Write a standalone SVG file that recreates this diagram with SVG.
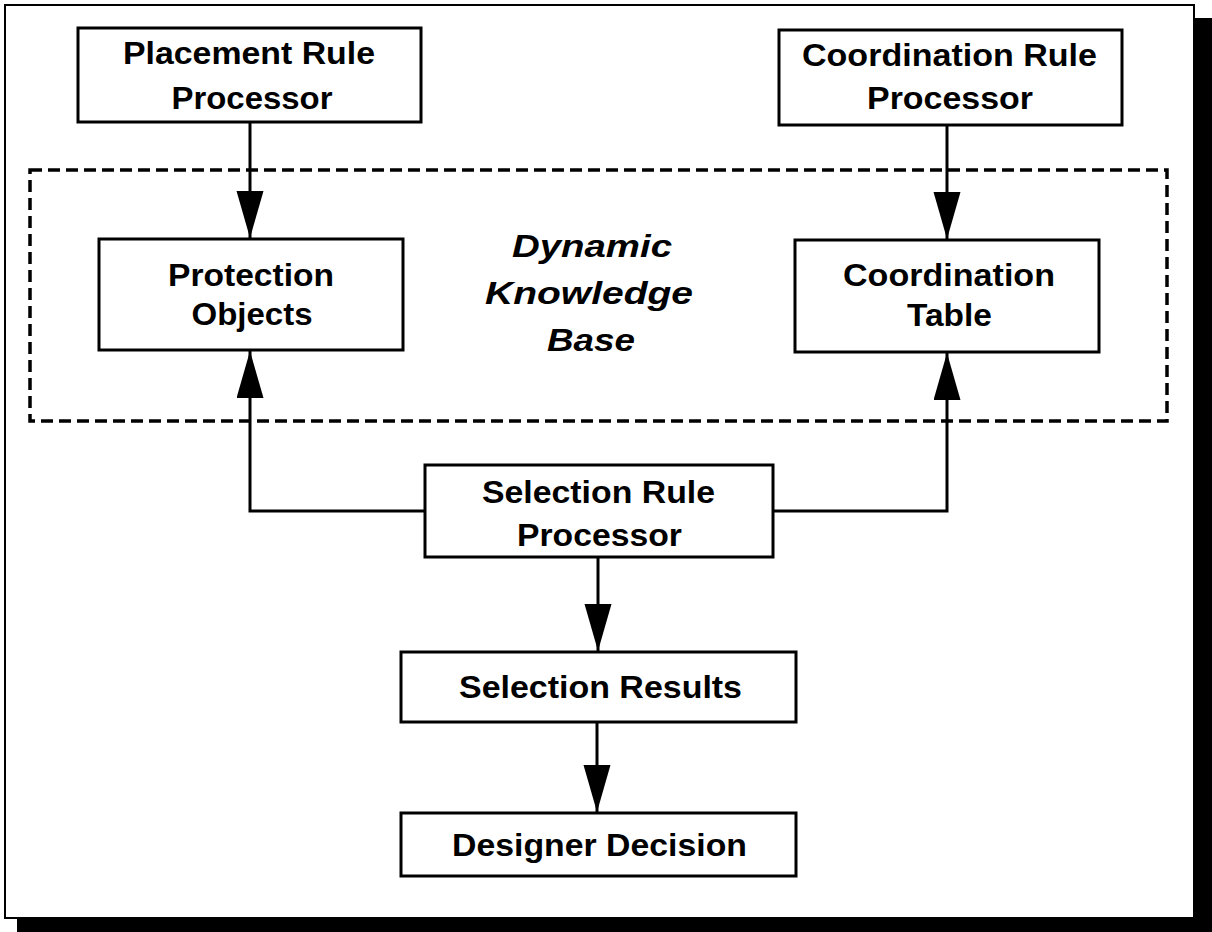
<svg xmlns="http://www.w3.org/2000/svg" width="1212" height="932" viewBox="0 0 1212 932">
<style>
.box{fill:#fff;stroke:#000;stroke-width:3}
.lbl{font-family:"Liberation Sans",Arial,sans-serif;font-weight:bold;font-size:30.5px;fill:#000;text-anchor:middle}
.ital{font-style:italic;font-size:31px}
.conn{fill:none;stroke:#000;stroke-width:3}
.dash{fill:none;stroke:#000;stroke-width:3.5;stroke-dasharray:12 6}
</style>
<defs>
<marker id="ah" markerUnits="userSpaceOnUse" markerWidth="48" markerHeight="28" refX="47" refY="13.5" orient="auto" viewBox="0 0 48 28">
<path d="M0,0 L47,13.5 L0,27 z" fill="#000"/>
</marker>
</defs>
<rect x="0" y="0" width="1212" height="932" fill="#fff"/>
<g id="frame">
<path d="M1195,18 H1212 V932 H17 V919 H1195 z" fill="#000"/>
<rect x="5" y="5" width="1189" height="913" fill="#fff" stroke="#000" stroke-width="2"/>
</g>
<g id="dynamic-knowledge-base">
<rect class="dash" x="30" y="170" width="1137" height="251"/>
<text class="lbl ital" x="592" y="257" textLength="160" lengthAdjust="spacingAndGlyphs">Dynamic</text>
<text class="lbl ital" x="589" y="304" textLength="208" lengthAdjust="spacingAndGlyphs">Knowledge</text>
<text class="lbl ital" x="591" y="351" textLength="88" lengthAdjust="spacingAndGlyphs">Base</text>
</g>
<g id="connectors">
<path class="conn" d="M250,122 V238" marker-end="url(#ah)"/>
<path class="conn" d="M947,125 V239" marker-end="url(#ah)"/>
<path class="conn" d="M425,511 H250 V351" marker-end="url(#ah)"/>
<path class="conn" d="M773,511 H947 V353" marker-end="url(#ah)"/>
<path class="conn" d="M598,557 V651" marker-end="url(#ah)"/>
<path class="conn" d="M597,722 V812" marker-end="url(#ah)"/>
</g>
<g id="placement-rule-processor">
<rect class="box" x="78" y="28" width="343" height="94"/>
<text class="lbl" x="249" y="64" textLength="252" lengthAdjust="spacingAndGlyphs">Placement Rule</text>
<text class="lbl" x="252" y="109" textLength="161" lengthAdjust="spacingAndGlyphs">Processor</text>
</g>
<g id="coordination-rule-processor">
<rect class="box" x="779" y="30" width="343" height="95"/>
<text class="lbl" x="949.5" y="66" textLength="295" lengthAdjust="spacingAndGlyphs">Coordination Rule</text>
<text class="lbl" x="950" y="109" textLength="166" lengthAdjust="spacingAndGlyphs">Processor</text>
</g>
<g id="protection-objects">
<rect class="box" x="99" y="239" width="304" height="111"/>
<text class="lbl" x="251" y="286" textLength="166" lengthAdjust="spacingAndGlyphs">Protection</text>
<text class="lbl" x="252" y="325" textLength="121" lengthAdjust="spacingAndGlyphs">Objects</text>
</g>
<g id="coordination-table">
<rect class="box" x="795" y="240" width="304" height="112"/>
<text class="lbl" x="949" y="286" textLength="212" lengthAdjust="spacingAndGlyphs">Coordination</text>
<text class="lbl" x="949.5" y="326" textLength="85" lengthAdjust="spacingAndGlyphs">Table</text>
</g>
<g id="selection-rule-processor">
<rect class="box" x="425" y="465" width="348" height="92"/>
<text class="lbl" x="598.5" y="503" textLength="233" lengthAdjust="spacingAndGlyphs">Selection Rule</text>
<text class="lbl" x="599.5" y="546" textLength="165" lengthAdjust="spacingAndGlyphs">Processor</text>
</g>
<g id="selection-results">
<rect class="box" x="401" y="652" width="395" height="70"/>
<text class="lbl" x="600.5" y="698" textLength="283" lengthAdjust="spacingAndGlyphs">Selection Results</text>
</g>
<g id="designer-decision">
<rect class="box" x="401" y="813" width="395" height="63"/>
<text class="lbl" x="599.5" y="856" textLength="295" lengthAdjust="spacingAndGlyphs">Designer Decision</text>
</g>
</svg>
